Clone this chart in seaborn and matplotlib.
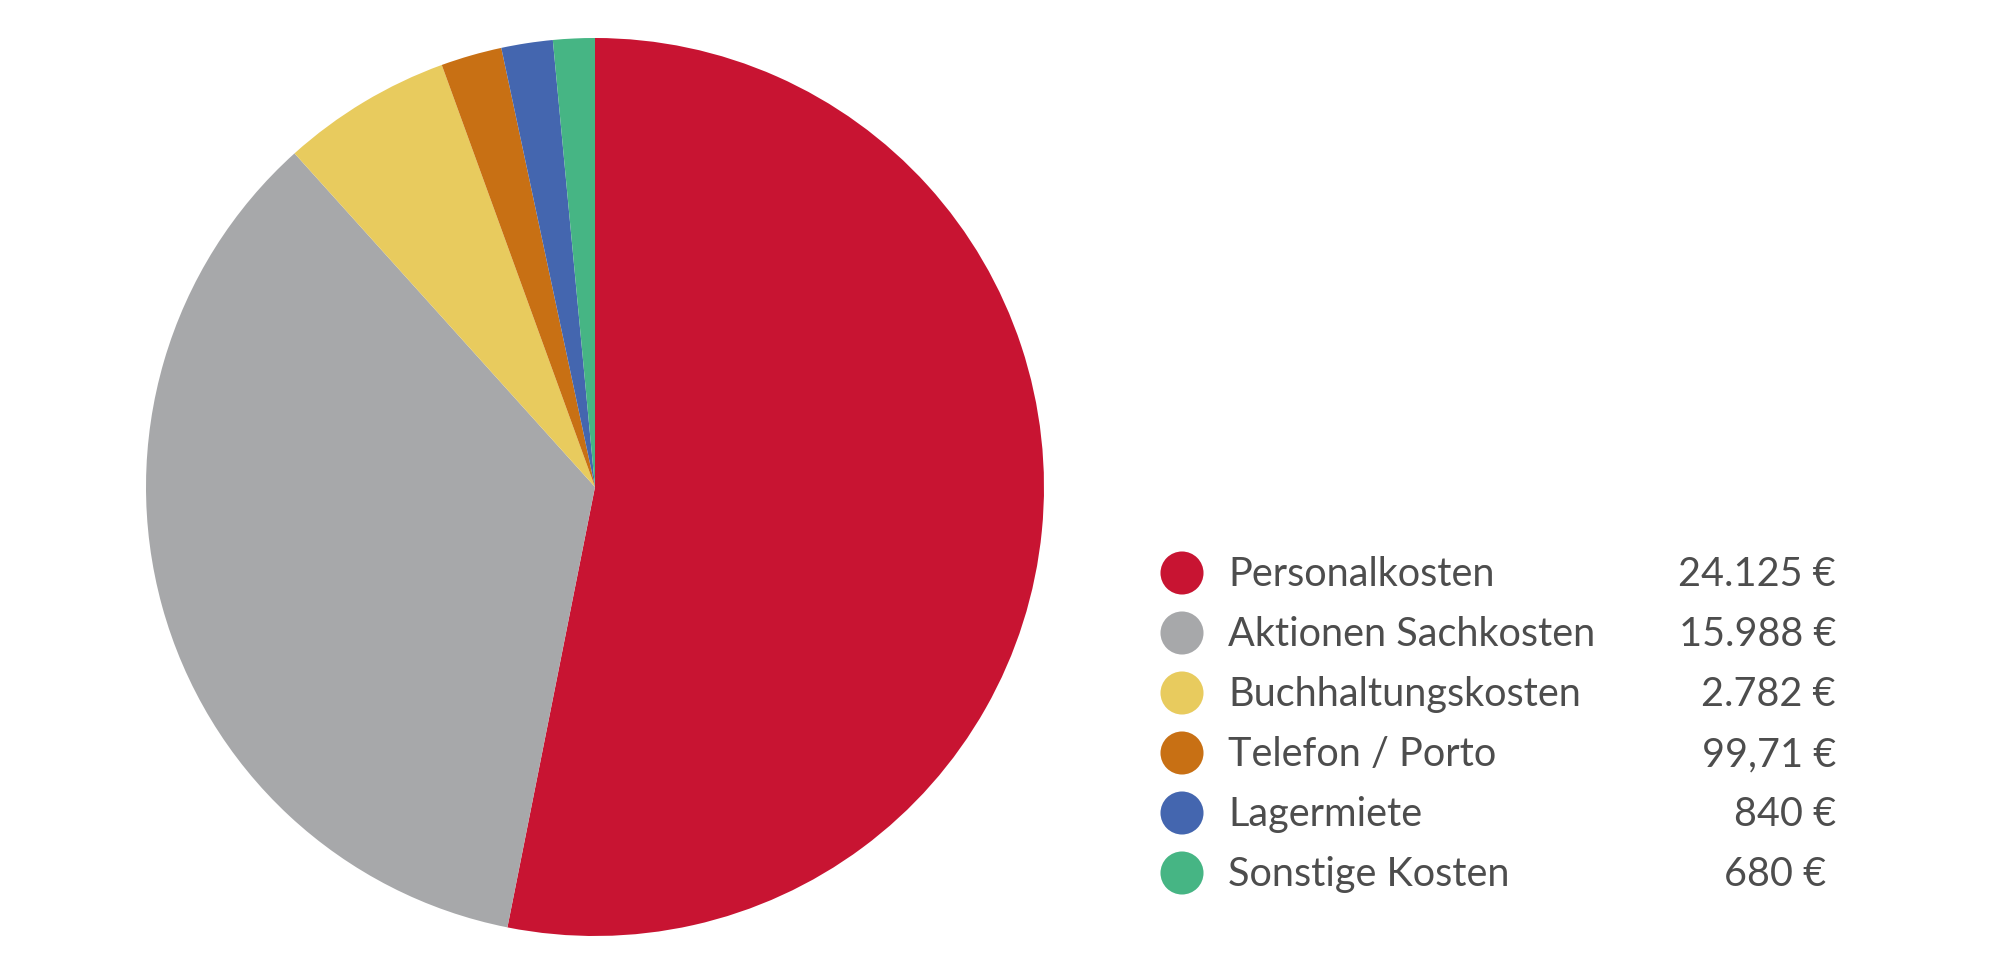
import matplotlib
matplotlib.use('Agg')
import matplotlib.pyplot as plt
import seaborn as sns
import pandas as pd

# data
categories = ['Personalkosten', 'Aktionen Sachkosten', 'Buchhaltungskosten',
              'Telefon / Porto', 'Lagermiete', 'Sonstige Kosten']
# slice sizes as drawn (the Telefon slice is drawn as ~997, the label says 99,71)
slice_values = [24125, 15988, 2782, 997.1, 840, 680]
value_labels = ['24.125 €', '15.988 €', '2.782 €', '99,71 €', '840 €', '680 € ']
colors = ['#C81432', '#A7A8AA', '#E8CB5E', '#C87014', '#4466AF', '#46B584']

sns.set_theme(style='white')
plt.rcParams['font.family'] = ['Lato', 'DejaVu Sans']
text_color = '#4D4D4D'

fig = plt.figure(figsize=(20, 9.76), dpi=100)

# pie
ax = fig.add_axes([146 / 2000, 40 / 976, 898 / 2000, 898 / 976])
ax.pie(slice_values, colors=colors, startangle=90, counterclock=False,
       wedgeprops=dict(linewidth=0))
ax.set_xlim(-1, 1)
ax.set_ylim(-1, 1)
ax.set_aspect('equal')
ax.axis('off')

# legend as a small table
df = pd.DataFrame({'category': categories, 'row': range(len(categories)),
                   'value': value_labels, 'x': 0})
lax = fig.add_axes([1150 / 2000, 73 / 976, 700 / 2000, 360 / 976])
sns.scatterplot(data=df, x='x', y='row', hue='category', palette=colors,
                s=960, linewidth=0, legend=False, ax=lax)
lax.set_xlim(-32, 668)
lax.set_ylim(len(categories) - 0.5, -0.5)
for _, r in df.iterrows():
    lax.text(46, r['row'] + 0.03, r['category'], fontsize=28.5, color=text_color,
             va='center', ha='left')
    lax.text(654, r['row'] + 0.03, r['value'], fontsize=28.5, color=text_color,
             va='center', ha='right')
lax.axis('off')

fig.savefig('out.png', dpi=100, facecolor='white')
